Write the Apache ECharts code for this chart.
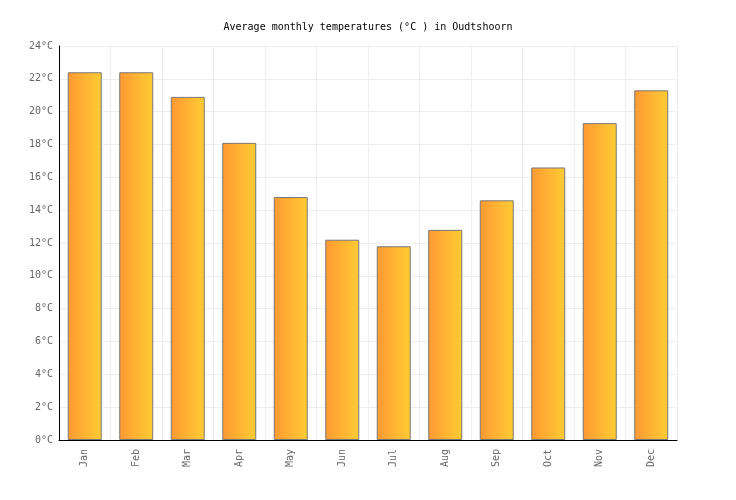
<!DOCTYPE html>
<html><head><meta charset="utf-8">
<script src="https://cdn.jsdelivr.net/npm/echarts@6/dist/echarts.min.js"></script>
<style>html,body{margin:0;padding:0;background:#fff}#c{width:736px;height:500px}</style>
</head><body><div id="c"></div>
<script>
var months = ['Jan','Feb','Mar','Apr','May','Jun','Jul','Aug','Sep','Oct','Nov','Dec'];
var temps = [22.4, 22.4, 20.9, 18.1, 14.8, 12.2, 11.8, 12.8, 14.6, 16.6, 19.3, 21.3];
var chart = echarts.init(document.getElementById('c'));
var font = 'DejaVu Sans Mono';
chart.setOption({
  animation: false,
  title: {text: 'Average monthly temperatures (°C ) in Oudtshoorn', left: 'center', top: 17,
    textStyle: {fontFamily: font, fontSize: 10, fontWeight: 'normal', color: '#000'}},
  grid: {left: 59, right: 59, top: 46, bottom: 60},
  xAxis: {type: 'category', data: months,
    axisLine: {lineStyle: {color: '#000', width: 1}},
    axisTick: {show: false},
    axisLabel: {rotate: 90, fontFamily: font, fontSize: 10, color: '#666', margin: 9},
    splitLine: {show: true, lineStyle: {color: '#eee'}}},
  yAxis: {type: 'value', min: 0, max: 24, interval: 2,
    axisLine: {show: true, lineStyle: {color: '#000', width: 1}},
    axisTick: {show: false},
    axisLabel: {formatter: '{value}°C', fontFamily: font, fontSize: 10, color: '#666', margin: 6},
    splitLine: {show: true, lineStyle: {color: '#eee'}}},
  series: [{type: 'bar', data: temps, barWidth: '66%',
    itemStyle: {borderColor: '#777', borderWidth: 1,
      color: new echarts.graphic.LinearGradient(0, 0, 1, 0, [
        {offset: 0, color: '#ff9933'}, {offset: 1, color: '#ffcc33'}])}}]
});
</script></body></html>
